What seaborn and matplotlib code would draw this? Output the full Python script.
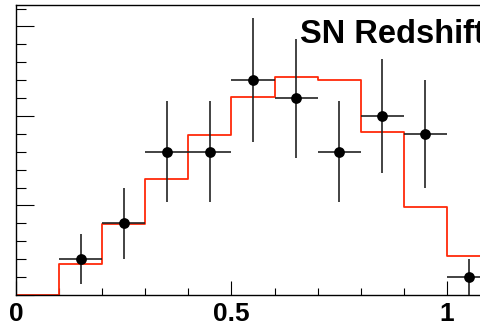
import numpy as np
import matplotlib
matplotlib.use("Agg")
import matplotlib.pyplot as plt
import seaborn as sns
from matplotlib.ticker import MultipleLocator

# data points (bin centres, counts, errors)
z_pts = [0.15, 0.25, 0.35, 0.45, 0.55, 0.65, 0.75, 0.85, 0.95, 1.05]
n_pts = [2, 4, 8, 8, 12, 11, 8, 10, 9, 1]
err_pts = [1.41, 2.0, 2.83, 2.83, 3.46, 3.32, 2.83, 3.16, 3.0, 1.0]
xerr_pts = [0.05] * 10

# simulated histogram (red)
bin_edges = [0.0, 0.1, 0.2, 0.3, 0.4, 0.5, 0.6, 0.7, 0.8, 0.9, 1.0, 1.1]
bin_centers = [0.05, 0.15, 0.25, 0.35, 0.45, 0.55, 0.65, 0.75, 0.85, 0.95, 1.05]
sim_counts = [0.0, 1.72, 3.97, 6.49, 8.96, 11.04, 12.2, 12.03, 9.12, 4.93, 2.2]

sns.set_style("ticks")
plt.rcParams['font.family'] = ['Liberation Sans', 'DejaVu Sans']
plt.rcParams['text.color'] = 'black'
plt.rcParams['xtick.color'] = 'black'
plt.rcParams['ytick.color'] = 'black'

fig = plt.figure(figsize=(4.81, 3.27), dpi=100)
ax = fig.add_axes([16 / 481, 32 / 327, 1.1 * 431 / 481, 290 / 327])

sns.histplot(x=bin_centers, weights=sim_counts, bins=bin_edges, element="step",
             fill=False, color="#ff2a0a", linewidth=1.3, ax=ax)

ax.errorbar(z_pts, n_pts, yerr=err_pts, xerr=xerr_pts, fmt="none",
            ecolor="#222222", elinewidth=1.2, capsize=0, zorder=3)
sns.scatterplot(x=z_pts, y=n_pts, color="black", s=60, edgecolor="black",
                linewidth=0, zorder=4, ax=ax)

ax.set_xlim(0, 1.1)
ax.set_ylim(0, 16.2)
ax.set_xlabel("")
ax.set_ylabel("")

ax.xaxis.set_major_locator(MultipleLocator(0.5))
ax.xaxis.set_minor_locator(MultipleLocator(0.1))
ax.yaxis.set_major_locator(MultipleLocator(5))
ax.yaxis.set_minor_locator(MultipleLocator(1))
ax.set_xticks([0, 0.5, 1])
ax.set_xticklabels(["0", "0.5", "1"], fontsize=19, fontweight="bold", color="black")
ax.set_yticklabels([])
ax.tick_params(axis="x", which="major", direction="in", length=10, width=0.8, pad=5)
ax.tick_params(axis="x", which="minor", direction="in", length=5, width=0.8)
ax.tick_params(axis="y", which="major", direction="in", length=13, width=0.8)
ax.tick_params(axis="y", which="minor", direction="in", length=7, width=0.8)

for s in ax.spines.values():
    s.set_linewidth(1.0)
    s.set_color("black")
ax.spines["right"].set_visible(False)

ax.text(300 / 481, 1 - 43 / 327, "SN Redshift", transform=fig.transFigure,
        fontsize=23.5, fontweight="bold", color="black", ha="left", va="baseline")

fig.savefig("out.png", dpi=100)
